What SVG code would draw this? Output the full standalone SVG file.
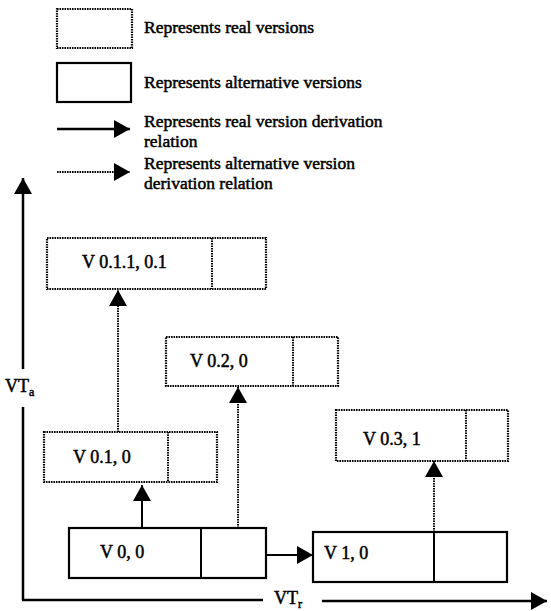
<svg xmlns="http://www.w3.org/2000/svg" width="551" height="611" viewBox="0 0 551 611">
<style>
text{font-family:"Liberation Serif","Times New Roman",serif;fill:#000;stroke:#000;stroke-width:0.5}
.lg{font-size:17.5px}
.nd{font-size:18px}
.real{fill:#fff;stroke:#000;stroke-width:2.2;stroke-dasharray:1.6 0.9}
.alt{fill:#fff;stroke:#000;stroke-width:2.2}
.dl{stroke:#000;stroke-width:2;stroke-dasharray:1.6 0.9;fill:none}
.sl{stroke:#000;stroke-width:2;fill:none}
.ax{stroke:#000;stroke-width:2.5;fill:none}
</style>
<defs>
<marker id="ah" markerWidth="16" markerHeight="18" refX="16" refY="9" orient="auto" markerUnits="userSpaceOnUse">
<path d="M0,0 L16,9 L0,18 Z" fill="#000"/>
</marker>
</defs>
<g id="legend">
<rect class="real" x="57" y="9" width="75" height="39"/>
<text class="lg" x="144" y="33">Represents real versions</text>
<rect class="alt" x="57" y="63" width="74" height="39"/>
<text class="lg" x="144" y="88">Represents alternative versions</text>
<line class="sl" x1="57" y1="129" x2="130" y2="129" marker-end="url(#ah)" style="stroke-width:2.5"/>
<text class="lg" x="144" y="127">Represents real version derivation</text>
<text class="lg" x="144" y="147">relation</text>
<line class="dl" x1="57" y1="172" x2="130" y2="172" marker-end="url(#ah)"/>
<text class="lg" x="144" y="169">Represents alternative version</text>
<text class="lg" x="144" y="189">derivation relation</text>
</g>
<g id="axes">
<line class="ax" x1="23" y1="369" x2="23" y2="178" marker-end="url(#ah)"/>
<line class="ax" x1="23" y1="407" x2="23" y2="600"/>
<line class="ax" x1="22" y1="600" x2="263" y2="600"/>
<line class="ax" x1="322" y1="601" x2="547" y2="601" marker-end="url(#ah)"/>
<text class="nd" x="5" y="392">VT<tspan font-size="12" dy="4">a</tspan></text>
<text class="nd" x="274" y="604">VT<tspan font-size="12" dy="4">r</tspan></text>
</g>
<g id="connectors">
<line class="sl" x1="142" y1="528" x2="142" y2="485" marker-end="url(#ah)"/>
<line class="dl" x1="118" y1="432" x2="118" y2="290" marker-end="url(#ah)"/>
<line class="dl" x1="238" y1="528" x2="238" y2="387" marker-end="url(#ah)"/>
<line class="sl" x1="266" y1="555" x2="313" y2="555" marker-end="url(#ah)"/>
<line class="dl" x1="434" y1="532" x2="434" y2="461" marker-end="url(#ah)"/>
</g>
<g id="v011">
<rect class="real" x="47" y="238" width="219" height="51"/>
<line class="dl" x1="212" y1="238" x2="212" y2="289"/>
<text class="nd" x="82" y="268">V 0.1.1, 0.1</text>
</g>
<g id="v02">
<rect class="real" x="166" y="337" width="172" height="49"/>
<line class="dl" x1="293" y1="337" x2="293" y2="386"/>
<text class="nd" x="190" y="367">V 0.2, 0</text>
</g>
<g id="v01">
<rect class="real" x="44" y="432" width="173" height="50"/>
<line class="dl" x1="168" y1="432" x2="168" y2="482"/>
<text class="nd" x="73" y="463">V 0.1, 0</text>
</g>
<g id="v00">
<rect class="alt" x="69" y="528" width="197" height="50"/>
<line class="sl" x1="201" y1="528" x2="201" y2="578"/>
<text class="nd" x="100" y="558">V 0, 0</text>
</g>
<g id="v10">
<rect class="alt" x="313" y="532" width="194" height="50"/>
<line class="sl" x1="434" y1="532" x2="434" y2="582"/>
<text class="nd" x="324" y="559">V 1, 0</text>
</g>
<g id="v031">
<rect class="real" x="336" y="410" width="172" height="51"/>
<line class="dl" x1="466" y1="410" x2="466" y2="461"/>
<text class="nd" x="363" y="445">V 0.3, 1</text>
</g>
</svg>
